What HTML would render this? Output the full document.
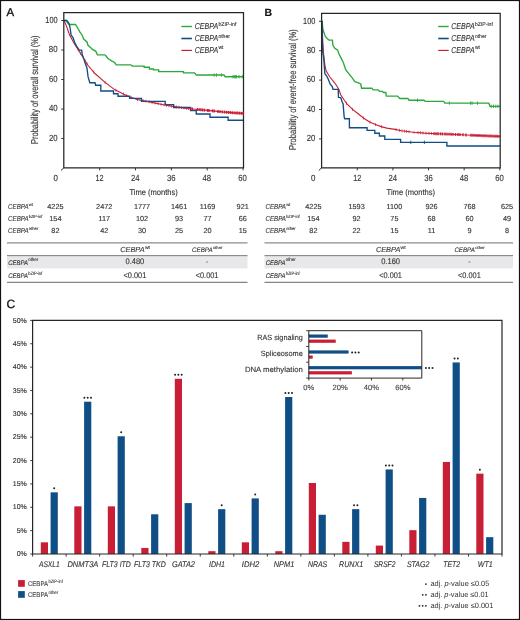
<!DOCTYPE html><html><head><meta charset="utf-8"><style>html,body{margin:0;padding:0;background:#fff;}svg{display:block;font-family:"Liberation Sans",sans-serif;will-change:transform;text-rendering:geometricPrecision;}</style></head><body>
<svg width="520" height="620" viewBox="0 0 520 620">
<rect x="0" y="0" width="520" height="620" fill="#fff"/>
<text x="6.60" y="16.40" font-size="11.4" text-anchor="start" fill="#111" stroke="#111" stroke-width="0.35">A</text>
<text x="264.60" y="16.40" font-size="10.5" text-anchor="start" fill="#111" font-weight="bold" stroke="#111" stroke-width="0.12">B</text>
<text x="6.40" y="307.80" font-size="12.0" text-anchor="start" fill="#111" stroke="#111" stroke-width="0.3">C</text>
<polyline points="64.00,20.50 66.00,20.50 67.20,22.20 68.20,23.80 69.20,24.50 75.50,24.50 77.40,27.50 79.80,31.90 82.20,35.20 83.60,39.10 87.00,42.00 88.00,45.30 90.80,47.70 92.80,49.70 95.70,51.10 97.40,54.80 104.80,54.80 106.50,56.50 108.00,58.60 111.50,60.80 114.60,62.50 116.30,64.80 130.80,64.80 132.50,66.10 144.20,66.10 144.20,67.20 149.40,67.20 149.40,69.00 153.50,69.00 153.50,69.90 158.70,69.90 158.70,71.60 183.50,71.60 183.50,72.80 194.60,72.80 196.30,75.00 224.00,75.00 225.20,76.70 243.50,76.70" fill="none" stroke="#2aa83e" stroke-width="1.35" stroke-linejoin="miter"/>
<polyline points="64.00,20.50 66.30,25.60 69.70,35.20 74.50,43.90 81.20,54.50 88.10,65.50 95.00,73.50 104.80,82.10 114.60,89.60 126.20,95.40 130.00,97.10 137.70,99.60 145.00,101.00 153.00,102.60 164.60,105.00 176.20,106.90 187.70,108.50 197.50,109.50 210.00,110.60 222.50,111.90 235.00,112.90 243.50,113.40" fill="none" stroke="#c81f36" stroke-width="1.1" stroke-linejoin="miter"/>
<polyline points="64.00,20.50 66.80,20.50 69.20,23.70 70.20,28.50 71.10,35.20 73.00,37.60 74.50,42.00 76.40,45.80 78.30,48.70 79.30,50.10 81.70,50.10 82.20,54.50 83.60,58.30 85.10,63.10 86.90,67.70 88.10,76.90 89.80,82.70 95.00,82.70 95.60,85.20 100.80,85.20 100.80,91.00 113.50,91.00 113.50,93.70 118.00,93.70 118.00,96.20 129.60,96.20 129.60,98.30 141.50,98.30 141.50,101.40 165.20,101.40 165.20,104.60 173.60,104.60 173.60,107.50 190.60,107.50 190.60,110.60 196.25,110.60 196.25,114.00 210.00,114.00 210.00,117.25 228.10,117.25 228.10,120.25 243.50,120.25" fill="none" stroke="#0f4f86" stroke-width="1.35" stroke-linejoin="miter"/>
<path d="M63.8,167.8 L63.8,12.5 L243.5,12.5 L243.5,167.8 Z" fill="none" stroke="#262626" stroke-width="1.25"/>
<line x1="63.80" y1="167.80" x2="61.00" y2="170.50" stroke="#262626" stroke-width="1.0"/>
<line x1="61.20" y1="138.50" x2="63.80" y2="138.50" stroke="#262626" stroke-width="0.9"/>
<text x="57.60" y="140.80" font-size="8.9" text-anchor="end" fill="#333333" textLength="8.60" lengthAdjust="spacingAndGlyphs" stroke="#333333" stroke-width="0.12">20</text>
<line x1="61.20" y1="109.00" x2="63.80" y2="109.00" stroke="#262626" stroke-width="0.9"/>
<text x="57.60" y="111.30" font-size="8.9" text-anchor="end" fill="#333333" textLength="8.70" lengthAdjust="spacingAndGlyphs" stroke="#333333" stroke-width="0.12">40</text>
<line x1="61.20" y1="79.50" x2="63.80" y2="79.50" stroke="#262626" stroke-width="0.9"/>
<text x="57.60" y="81.80" font-size="8.9" text-anchor="end" fill="#333333" textLength="8.60" lengthAdjust="spacingAndGlyphs" stroke="#333333" stroke-width="0.12">60</text>
<line x1="61.20" y1="50.00" x2="63.80" y2="50.00" stroke="#262626" stroke-width="0.9"/>
<text x="57.60" y="52.30" font-size="8.9" text-anchor="end" fill="#333333" textLength="8.75" lengthAdjust="spacingAndGlyphs" stroke="#333333" stroke-width="0.12">80</text>
<line x1="61.20" y1="20.50" x2="63.80" y2="20.50" stroke="#262626" stroke-width="0.9"/>
<text x="57.60" y="22.80" font-size="8.9" text-anchor="end" fill="#333333" textLength="12.30" lengthAdjust="spacingAndGlyphs" stroke="#333333" stroke-width="0.12">100</text>
<text x="55.60" y="180.90" font-size="8.9" text-anchor="middle" fill="#333333" textLength="4.40" lengthAdjust="spacingAndGlyphs" stroke="#333333" stroke-width="0.12">0</text>
<line x1="99.66" y1="167.80" x2="99.66" y2="170.40" stroke="#262626" stroke-width="0.9"/>
<text x="99.60" y="180.90" font-size="8.9" text-anchor="middle" fill="#333333" textLength="8.10" lengthAdjust="spacingAndGlyphs" stroke="#333333" stroke-width="0.12">12</text>
<line x1="135.51" y1="167.80" x2="135.51" y2="170.40" stroke="#262626" stroke-width="0.9"/>
<text x="135.30" y="180.90" font-size="8.9" text-anchor="middle" fill="#333333" textLength="8.60" lengthAdjust="spacingAndGlyphs" stroke="#333333" stroke-width="0.12">24</text>
<line x1="171.37" y1="167.80" x2="171.37" y2="170.40" stroke="#262626" stroke-width="0.9"/>
<text x="171.20" y="180.90" font-size="8.9" text-anchor="middle" fill="#333333" textLength="8.60" lengthAdjust="spacingAndGlyphs" stroke="#333333" stroke-width="0.12">36</text>
<line x1="207.22" y1="167.80" x2="207.22" y2="170.40" stroke="#262626" stroke-width="0.9"/>
<text x="206.80" y="180.90" font-size="8.9" text-anchor="middle" fill="#333333" textLength="8.60" lengthAdjust="spacingAndGlyphs" stroke="#333333" stroke-width="0.12">48</text>
<line x1="243.08" y1="167.80" x2="243.08" y2="170.40" stroke="#262626" stroke-width="0.9"/>
<text x="242.50" y="180.90" font-size="8.9" text-anchor="middle" fill="#333333" textLength="8.60" lengthAdjust="spacingAndGlyphs" stroke="#333333" stroke-width="0.12">60</text>
<text x="129.40" y="194.60" font-size="8.3" text-anchor="start" fill="#333333" textLength="48.50" lengthAdjust="spacingAndGlyphs" stroke="#333333" stroke-width="0.12">Time (months)</text>
<g transform="translate(37.7,89.8) rotate(-90)">
<text x="0.00" y="0.00" font-size="10" text-anchor="middle" fill="#333333" textLength="108.40" lengthAdjust="spacingAndGlyphs" stroke="#333333" stroke-width="0.12">Probability of overall survival (%)</text>
</g>
<line x1="181.40" y1="26.50" x2="191.90" y2="26.50" stroke="#2aa83e" stroke-width="1.4"/>
<text x="194.80" y="29.10" font-size="8.6" text-anchor="start" fill="#333333" font-style="italic" textLength="23.30" lengthAdjust="spacingAndGlyphs" stroke="#333333" stroke-width="0.12">CEBPA</text>
<text x="218.40" y="25.50" font-size="5.4" text-anchor="start" fill="#333333" textLength="18.00" lengthAdjust="spacingAndGlyphs" stroke="#333333" stroke-width="0.12">bZIP-inf</text>
<line x1="181.40" y1="38.50" x2="191.90" y2="38.50" stroke="#0f4f86" stroke-width="1.6"/>
<text x="194.80" y="41.10" font-size="8.6" text-anchor="start" fill="#333333" font-style="italic" textLength="23.30" lengthAdjust="spacingAndGlyphs" stroke="#333333" stroke-width="0.12">CEBPA</text>
<text x="218.40" y="37.50" font-size="5.4" text-anchor="start" fill="#333333" textLength="11.50" lengthAdjust="spacingAndGlyphs" stroke="#333333" stroke-width="0.12">other</text>
<line x1="181.40" y1="50.40" x2="191.90" y2="50.40" stroke="#c81f36" stroke-width="1.15"/>
<text x="194.80" y="53.00" font-size="8.6" text-anchor="start" fill="#333333" font-style="italic" textLength="23.30" lengthAdjust="spacingAndGlyphs" stroke="#333333" stroke-width="0.12">CEBPA</text>
<text x="218.40" y="49.40" font-size="5.4" text-anchor="start" fill="#333333" textLength="5.00" lengthAdjust="spacingAndGlyphs" stroke="#333333" stroke-width="0.12">wt</text>
<polyline points="321.60,21.30 322.20,21.30 322.80,28.50 323.80,32.30 325.20,36.20 327.10,38.60 329.10,40.00 332.40,40.20 332.90,45.30 334.80,48.20 337.70,50.10 338.80,53.50 341.10,58.10 343.40,62.70 345.70,69.60 349.20,74.20 352.00,77.70 354.90,81.70 358.40,82.90 360.70,84.00 361.60,88.20 371.90,88.20 373.10,89.80 378.30,89.80 379.40,91.30 382.30,91.30 383.50,92.50 385.80,92.50 386.30,96.10 397.50,96.10 399.80,98.50 407.90,98.50 409.00,100.20 424.00,100.20 425.20,101.30 443.70,101.30 444.80,103.00 488.80,103.20 490.00,106.30 500.00,106.30" fill="none" stroke="#2aa83e" stroke-width="1.35" stroke-linejoin="miter"/>
<polyline points="321.60,21.30 322.30,30.00 322.80,42.00 323.40,52.00 324.30,60.00 324.90,65.00 326.10,70.80 329.50,76.50 334.20,82.30 336.20,85.00 338.80,89.20 340.80,95.00 344.50,100.50 346.50,103.30 352.30,109.20 358.10,113.80 363.80,118.30 369.60,121.90 375.40,124.60 381.20,126.60 386.90,128.10 395.00,129.40 401.50,130.80 413.10,132.20 424.60,133.10 436.20,133.70 450.00,134.20 471.50,135.20 500.00,136.40" fill="none" stroke="#c81f36" stroke-width="1.1" stroke-linejoin="miter"/>
<polyline points="321.60,21.30 322.00,21.30 322.30,40.00 322.80,52.00 323.80,59.20 324.30,66.20 324.90,73.70 326.70,76.00 328.40,79.40 330.10,84.00 332.40,86.90 333.00,89.30 338.20,89.30 338.50,97.50 340.80,97.70 341.90,101.20 343.10,104.00 344.20,117.30 344.80,118.70 349.40,118.70 349.40,127.70 367.10,127.70 367.10,130.30 374.80,130.30 374.80,133.20 379.40,133.20 379.40,136.00 384.80,136.00 384.80,139.30 400.60,139.30 400.60,142.30 446.90,142.30 446.90,146.00 500.00,146.00" fill="none" stroke="#0f4f86" stroke-width="1.35" stroke-linejoin="miter"/>
<path d="M321.6,167.8 L321.6,13.45 L500.2,13.45 L500.2,167.8 Z" fill="none" stroke="#262626" stroke-width="1.25"/>
<line x1="321.60" y1="167.80" x2="318.80" y2="170.50" stroke="#262626" stroke-width="1.0"/>
<line x1="319.00" y1="138.90" x2="321.60" y2="138.90" stroke="#262626" stroke-width="0.9"/>
<text x="315.40" y="141.20" font-size="8.9" text-anchor="end" fill="#333333" textLength="8.60" lengthAdjust="spacingAndGlyphs" stroke="#333333" stroke-width="0.12">20</text>
<line x1="319.00" y1="109.50" x2="321.60" y2="109.50" stroke="#262626" stroke-width="0.9"/>
<text x="315.40" y="111.80" font-size="8.9" text-anchor="end" fill="#333333" textLength="8.70" lengthAdjust="spacingAndGlyphs" stroke="#333333" stroke-width="0.12">40</text>
<line x1="319.00" y1="80.10" x2="321.60" y2="80.10" stroke="#262626" stroke-width="0.9"/>
<text x="315.40" y="82.40" font-size="8.9" text-anchor="end" fill="#333333" textLength="8.60" lengthAdjust="spacingAndGlyphs" stroke="#333333" stroke-width="0.12">60</text>
<line x1="319.00" y1="50.70" x2="321.60" y2="50.70" stroke="#262626" stroke-width="0.9"/>
<text x="315.40" y="53.00" font-size="8.9" text-anchor="end" fill="#333333" textLength="8.75" lengthAdjust="spacingAndGlyphs" stroke="#333333" stroke-width="0.12">80</text>
<line x1="319.00" y1="21.30" x2="321.60" y2="21.30" stroke="#262626" stroke-width="0.9"/>
<text x="315.40" y="23.60" font-size="8.9" text-anchor="end" fill="#333333" textLength="12.30" lengthAdjust="spacingAndGlyphs" stroke="#333333" stroke-width="0.12">100</text>
<text x="313.20" y="180.90" font-size="8.9" text-anchor="middle" fill="#333333" textLength="4.40" lengthAdjust="spacingAndGlyphs" stroke="#333333" stroke-width="0.12">0</text>
<line x1="357.24" y1="167.80" x2="357.24" y2="170.40" stroke="#262626" stroke-width="0.9"/>
<text x="357.20" y="180.90" font-size="8.9" text-anchor="middle" fill="#333333" textLength="8.10" lengthAdjust="spacingAndGlyphs" stroke="#333333" stroke-width="0.12">12</text>
<line x1="392.88" y1="167.80" x2="392.88" y2="170.40" stroke="#262626" stroke-width="0.9"/>
<text x="392.70" y="180.90" font-size="8.9" text-anchor="middle" fill="#333333" textLength="8.60" lengthAdjust="spacingAndGlyphs" stroke="#333333" stroke-width="0.12">24</text>
<line x1="428.52" y1="167.80" x2="428.52" y2="170.40" stroke="#262626" stroke-width="0.9"/>
<text x="428.60" y="180.90" font-size="8.9" text-anchor="middle" fill="#333333" textLength="8.60" lengthAdjust="spacingAndGlyphs" stroke="#333333" stroke-width="0.12">36</text>
<line x1="464.16" y1="167.80" x2="464.16" y2="170.40" stroke="#262626" stroke-width="0.9"/>
<text x="464.10" y="180.90" font-size="8.9" text-anchor="middle" fill="#333333" textLength="8.60" lengthAdjust="spacingAndGlyphs" stroke="#333333" stroke-width="0.12">48</text>
<line x1="499.80" y1="167.80" x2="499.80" y2="170.40" stroke="#262626" stroke-width="0.9"/>
<text x="499.60" y="180.90" font-size="8.9" text-anchor="middle" fill="#333333" textLength="8.60" lengthAdjust="spacingAndGlyphs" stroke="#333333" stroke-width="0.12">60</text>
<text x="386.60" y="194.60" font-size="8.3" text-anchor="start" fill="#333333" textLength="48.50" lengthAdjust="spacingAndGlyphs" stroke="#333333" stroke-width="0.12">Time (months)</text>
<g transform="translate(295.6,89.55) rotate(-90)">
<text x="0.00" y="0.00" font-size="10" text-anchor="middle" fill="#333333" textLength="120.70" lengthAdjust="spacingAndGlyphs" stroke="#333333" stroke-width="0.12">Probability of event-free survival (%)</text>
</g>
<line x1="438.20" y1="26.50" x2="448.70" y2="26.50" stroke="#2aa83e" stroke-width="1.4"/>
<text x="451.30" y="29.10" font-size="8.6" text-anchor="start" fill="#333333" font-style="italic" textLength="23.30" lengthAdjust="spacingAndGlyphs" stroke="#333333" stroke-width="0.12">CEBPA</text>
<text x="474.90" y="25.50" font-size="5.4" text-anchor="start" fill="#333333" textLength="18.00" lengthAdjust="spacingAndGlyphs" stroke="#333333" stroke-width="0.12">bZIP-inf</text>
<line x1="438.20" y1="38.50" x2="448.70" y2="38.50" stroke="#0f4f86" stroke-width="1.6"/>
<text x="451.30" y="41.10" font-size="8.6" text-anchor="start" fill="#333333" font-style="italic" textLength="23.30" lengthAdjust="spacingAndGlyphs" stroke="#333333" stroke-width="0.12">CEBPA</text>
<text x="474.90" y="37.50" font-size="5.4" text-anchor="start" fill="#333333" textLength="11.50" lengthAdjust="spacingAndGlyphs" stroke="#333333" stroke-width="0.12">other</text>
<line x1="438.20" y1="50.40" x2="448.70" y2="50.40" stroke="#c81f36" stroke-width="1.15"/>
<text x="451.30" y="53.00" font-size="8.6" text-anchor="start" fill="#333333" font-style="italic" textLength="23.30" lengthAdjust="spacingAndGlyphs" stroke="#333333" stroke-width="0.12">CEBPA</text>
<text x="474.90" y="49.40" font-size="5.4" text-anchor="start" fill="#333333" textLength="5.00" lengthAdjust="spacingAndGlyphs" stroke="#333333" stroke-width="0.12">wt</text>
<line x1="214.20" y1="73.30" x2="214.20" y2="76.70" stroke="#2aa83e" stroke-width="0.9"/>
<line x1="216.50" y1="73.30" x2="216.50" y2="76.70" stroke="#2aa83e" stroke-width="0.9"/>
<line x1="221.40" y1="73.30" x2="221.40" y2="76.70" stroke="#2aa83e" stroke-width="0.9"/>
<line x1="233.00" y1="75.00" x2="233.00" y2="78.40" stroke="#2aa83e" stroke-width="0.9"/>
<line x1="234.20" y1="75.00" x2="234.20" y2="78.40" stroke="#2aa83e" stroke-width="0.9"/>
<line x1="235.40" y1="75.00" x2="235.40" y2="78.40" stroke="#2aa83e" stroke-width="0.9"/>
<line x1="236.40" y1="75.00" x2="236.40" y2="78.40" stroke="#2aa83e" stroke-width="0.9"/>
<line x1="239.00" y1="75.00" x2="239.00" y2="78.40" stroke="#2aa83e" stroke-width="0.9"/>
<line x1="242.30" y1="75.00" x2="242.30" y2="78.40" stroke="#2aa83e" stroke-width="0.9"/>
<line x1="78.30" y1="48.41" x2="78.30" y2="51.41" stroke="#c81f36" stroke-width="0.7"/>
<line x1="80.50" y1="51.89" x2="80.50" y2="54.89" stroke="#c81f36" stroke-width="0.7"/>
<line x1="85.00" y1="59.06" x2="85.00" y2="62.06" stroke="#c81f36" stroke-width="0.7"/>
<line x1="87.00" y1="62.25" x2="87.00" y2="65.25" stroke="#c81f36" stroke-width="0.7"/>
<line x1="93.70" y1="70.49" x2="93.70" y2="73.49" stroke="#c81f36" stroke-width="0.7"/>
<line x1="105.20" y1="80.91" x2="105.20" y2="83.91" stroke="#c81f36" stroke-width="0.7"/>
<line x1="115.80" y1="88.70" x2="115.80" y2="91.70" stroke="#c81f36" stroke-width="0.7"/>
<line x1="123.50" y1="92.55" x2="123.50" y2="95.55" stroke="#c81f36" stroke-width="0.7"/>
<line x1="126.50" y1="94.03" x2="126.50" y2="97.03" stroke="#c81f36" stroke-width="0.7"/>
<line x1="131.00" y1="95.92" x2="131.00" y2="98.92" stroke="#c81f36" stroke-width="0.7"/>
<line x1="137.50" y1="98.04" x2="137.50" y2="101.04" stroke="#c81f36" stroke-width="0.7"/>
<line x1="143.00" y1="99.12" x2="143.00" y2="102.12" stroke="#c81f36" stroke-width="0.7"/>
<line x1="146.00" y1="99.70" x2="146.00" y2="102.70" stroke="#c81f36" stroke-width="0.7"/>
<line x1="149.00" y1="100.30" x2="149.00" y2="103.30" stroke="#c81f36" stroke-width="0.7"/>
<line x1="152.00" y1="100.90" x2="152.00" y2="103.90" stroke="#c81f36" stroke-width="0.7"/>
<line x1="155.00" y1="101.51" x2="155.00" y2="104.51" stroke="#c81f36" stroke-width="0.7"/>
<line x1="158.00" y1="102.13" x2="158.00" y2="105.13" stroke="#c81f36" stroke-width="0.7"/>
<line x1="161.00" y1="102.76" x2="161.00" y2="105.76" stroke="#c81f36" stroke-width="0.7"/>
<line x1="164.00" y1="103.38" x2="164.00" y2="106.38" stroke="#c81f36" stroke-width="0.7"/>
<line x1="166.50" y1="103.81" x2="166.50" y2="106.81" stroke="#c81f36" stroke-width="0.7"/>
<line x1="169.00" y1="104.22" x2="169.00" y2="107.22" stroke="#c81f36" stroke-width="0.7"/>
<line x1="171.50" y1="104.63" x2="171.50" y2="107.63" stroke="#c81f36" stroke-width="0.7"/>
<line x1="174.00" y1="105.04" x2="174.00" y2="108.04" stroke="#c81f36" stroke-width="0.7"/>
<line x1="176.50" y1="105.44" x2="176.50" y2="108.44" stroke="#c81f36" stroke-width="0.7"/>
<line x1="179.00" y1="105.79" x2="179.00" y2="108.79" stroke="#c81f36" stroke-width="0.7"/>
<line x1="181.50" y1="106.14" x2="181.50" y2="109.14" stroke="#c81f36" stroke-width="0.7"/>
<line x1="184.00" y1="106.49" x2="184.00" y2="109.49" stroke="#c81f36" stroke-width="0.7"/>
<line x1="186.50" y1="106.83" x2="186.50" y2="109.83" stroke="#c81f36" stroke-width="0.7"/>
<line x1="188.50" y1="107.08" x2="188.50" y2="110.08" stroke="#c81f36" stroke-width="0.7"/>
<line x1="190.50" y1="107.34" x2="190.50" y2="110.24" stroke="#c81f36" stroke-width="1.4"/>
<line x1="192.30" y1="107.52" x2="192.30" y2="110.42" stroke="#c81f36" stroke-width="1.4"/>
<line x1="197.50" y1="108.05" x2="197.50" y2="110.95" stroke="#c81f36" stroke-width="1.4"/>
<line x1="199.20" y1="108.20" x2="199.20" y2="111.10" stroke="#c81f36" stroke-width="1.4"/>
<line x1="200.90" y1="108.35" x2="200.90" y2="111.25" stroke="#c81f36" stroke-width="1.4"/>
<line x1="202.60" y1="108.50" x2="202.60" y2="111.40" stroke="#c81f36" stroke-width="1.4"/>
<line x1="204.50" y1="108.67" x2="204.50" y2="111.57" stroke="#c81f36" stroke-width="1.4"/>
<line x1="207.50" y1="108.93" x2="207.50" y2="111.83" stroke="#c81f36" stroke-width="1.4"/>
<line x1="209.00" y1="109.06" x2="209.00" y2="111.96" stroke="#c81f36" stroke-width="1.4"/>
<line x1="212.50" y1="109.41" x2="212.50" y2="112.31" stroke="#c81f36" stroke-width="1.4"/>
<line x1="214.20" y1="109.59" x2="214.20" y2="112.49" stroke="#c81f36" stroke-width="1.4"/>
<line x1="218.00" y1="109.98" x2="218.00" y2="112.88" stroke="#c81f36" stroke-width="1.4"/>
<line x1="220.00" y1="110.19" x2="220.00" y2="113.09" stroke="#c81f36" stroke-width="1.4"/>
<line x1="222.40" y1="110.44" x2="222.40" y2="113.34" stroke="#c81f36" stroke-width="1.4"/>
<line x1="224.60" y1="110.62" x2="224.60" y2="113.52" stroke="#c81f36" stroke-width="1.4"/>
<line x1="226.60" y1="110.78" x2="226.60" y2="113.68" stroke="#c81f36" stroke-width="1.4"/>
<line x1="228.50" y1="110.93" x2="228.50" y2="113.83" stroke="#c81f36" stroke-width="1.4"/>
<line x1="230.40" y1="111.08" x2="230.40" y2="113.98" stroke="#c81f36" stroke-width="1.4"/>
<line x1="232.30" y1="111.23" x2="232.30" y2="114.13" stroke="#c81f36" stroke-width="1.4"/>
<line x1="234.20" y1="111.39" x2="234.20" y2="114.29" stroke="#c81f36" stroke-width="1.4"/>
<line x1="236.00" y1="111.51" x2="236.00" y2="114.41" stroke="#c81f36" stroke-width="1.4"/>
<line x1="237.80" y1="111.61" x2="237.80" y2="114.51" stroke="#c81f36" stroke-width="1.4"/>
<line x1="239.60" y1="111.72" x2="239.60" y2="114.62" stroke="#c81f36" stroke-width="1.4"/>
<line x1="241.40" y1="111.83" x2="241.40" y2="114.73" stroke="#c81f36" stroke-width="1.4"/>
<line x1="243.00" y1="111.92" x2="243.00" y2="114.82" stroke="#c81f36" stroke-width="1.4"/>
<line x1="417.50" y1="98.50" x2="417.50" y2="101.90" stroke="#2aa83e" stroke-width="0.9"/>
<line x1="449.40" y1="101.32" x2="449.40" y2="104.72" stroke="#2aa83e" stroke-width="0.9"/>
<line x1="470.60" y1="101.42" x2="470.60" y2="104.82" stroke="#2aa83e" stroke-width="0.9"/>
<line x1="472.10" y1="101.42" x2="472.10" y2="104.82" stroke="#2aa83e" stroke-width="0.9"/>
<line x1="477.50" y1="101.45" x2="477.50" y2="104.85" stroke="#2aa83e" stroke-width="0.9"/>
<line x1="491.20" y1="104.60" x2="491.20" y2="108.00" stroke="#2aa83e" stroke-width="0.9"/>
<line x1="493.50" y1="104.60" x2="493.50" y2="108.00" stroke="#2aa83e" stroke-width="0.9"/>
<line x1="495.80" y1="104.60" x2="495.80" y2="108.00" stroke="#2aa83e" stroke-width="0.9"/>
<line x1="498.00" y1="104.60" x2="498.00" y2="108.00" stroke="#2aa83e" stroke-width="0.9"/>
<line x1="410.80" y1="140.60" x2="410.80" y2="144.00" stroke="#0f4f86" stroke-width="0.9"/>
<line x1="424.40" y1="140.60" x2="424.40" y2="144.00" stroke="#0f4f86" stroke-width="0.9"/>
<line x1="346.50" y1="101.80" x2="346.50" y2="104.80" stroke="#c81f36" stroke-width="0.7"/>
<line x1="352.50" y1="107.86" x2="352.50" y2="110.86" stroke="#c81f36" stroke-width="0.7"/>
<line x1="363.50" y1="116.56" x2="363.50" y2="119.56" stroke="#c81f36" stroke-width="0.7"/>
<line x1="370.00" y1="120.59" x2="370.00" y2="123.59" stroke="#c81f36" stroke-width="0.7"/>
<line x1="375.50" y1="123.13" x2="375.50" y2="126.13" stroke="#c81f36" stroke-width="0.7"/>
<line x1="381.50" y1="125.18" x2="381.50" y2="128.18" stroke="#c81f36" stroke-width="0.7"/>
<line x1="396.00" y1="128.12" x2="396.00" y2="131.12" stroke="#c81f36" stroke-width="0.7"/>
<line x1="399.50" y1="128.87" x2="399.50" y2="131.87" stroke="#c81f36" stroke-width="0.7"/>
<line x1="402.00" y1="129.36" x2="402.00" y2="132.36" stroke="#c81f36" stroke-width="0.7"/>
<line x1="404.50" y1="129.66" x2="404.50" y2="132.66" stroke="#c81f36" stroke-width="0.7"/>
<line x1="406.50" y1="129.90" x2="406.50" y2="132.90" stroke="#c81f36" stroke-width="0.7"/>
<line x1="409.00" y1="130.21" x2="409.00" y2="133.21" stroke="#c81f36" stroke-width="0.7"/>
<line x1="414.00" y1="130.77" x2="414.00" y2="133.77" stroke="#c81f36" stroke-width="0.7"/>
<line x1="418.00" y1="131.08" x2="418.00" y2="134.08" stroke="#c81f36" stroke-width="0.7"/>
<line x1="420.50" y1="131.28" x2="420.50" y2="134.28" stroke="#c81f36" stroke-width="0.7"/>
<line x1="423.00" y1="131.47" x2="423.00" y2="134.47" stroke="#c81f36" stroke-width="0.7"/>
<line x1="426.00" y1="131.67" x2="426.00" y2="134.67" stroke="#c81f36" stroke-width="0.7"/>
<line x1="429.00" y1="131.83" x2="429.00" y2="134.83" stroke="#c81f36" stroke-width="0.7"/>
<line x1="431.50" y1="131.96" x2="431.50" y2="134.96" stroke="#c81f36" stroke-width="0.7"/>
<line x1="434.00" y1="132.14" x2="434.00" y2="135.04" stroke="#c81f36" stroke-width="1.4"/>
<line x1="436.00" y1="132.24" x2="436.00" y2="135.14" stroke="#c81f36" stroke-width="1.4"/>
<line x1="438.00" y1="132.32" x2="438.00" y2="135.22" stroke="#c81f36" stroke-width="1.4"/>
<line x1="440.50" y1="132.41" x2="440.50" y2="135.31" stroke="#c81f36" stroke-width="1.4"/>
<line x1="442.50" y1="132.48" x2="442.50" y2="135.38" stroke="#c81f36" stroke-width="1.4"/>
<line x1="445.00" y1="132.57" x2="445.00" y2="135.47" stroke="#c81f36" stroke-width="1.4"/>
<line x1="447.00" y1="132.64" x2="447.00" y2="135.54" stroke="#c81f36" stroke-width="1.4"/>
<line x1="449.00" y1="132.71" x2="449.00" y2="135.61" stroke="#c81f36" stroke-width="1.4"/>
<line x1="451.00" y1="132.80" x2="451.00" y2="135.70" stroke="#c81f36" stroke-width="1.4"/>
<line x1="453.00" y1="132.89" x2="453.00" y2="135.79" stroke="#c81f36" stroke-width="1.4"/>
<line x1="455.50" y1="133.01" x2="455.50" y2="135.91" stroke="#c81f36" stroke-width="1.4"/>
<line x1="458.00" y1="133.12" x2="458.00" y2="136.02" stroke="#c81f36" stroke-width="1.4"/>
<line x1="460.00" y1="133.22" x2="460.00" y2="136.12" stroke="#c81f36" stroke-width="1.4"/>
<line x1="463.00" y1="133.35" x2="463.00" y2="136.25" stroke="#c81f36" stroke-width="1.4"/>
<line x1="466.00" y1="133.49" x2="466.00" y2="136.39" stroke="#c81f36" stroke-width="1.4"/>
<line x1="471.00" y1="133.73" x2="471.00" y2="136.63" stroke="#c81f36" stroke-width="1.4"/>
<line x1="473.00" y1="133.81" x2="473.00" y2="136.71" stroke="#c81f36" stroke-width="1.4"/>
<line x1="475.00" y1="133.90" x2="475.00" y2="136.80" stroke="#c81f36" stroke-width="1.4"/>
<line x1="477.00" y1="133.98" x2="477.00" y2="136.88" stroke="#c81f36" stroke-width="1.4"/>
<line x1="479.00" y1="134.07" x2="479.00" y2="136.97" stroke="#c81f36" stroke-width="1.4"/>
<line x1="481.00" y1="134.15" x2="481.00" y2="137.05" stroke="#c81f36" stroke-width="1.4"/>
<line x1="483.00" y1="134.23" x2="483.00" y2="137.13" stroke="#c81f36" stroke-width="1.4"/>
<line x1="485.00" y1="134.32" x2="485.00" y2="137.22" stroke="#c81f36" stroke-width="1.4"/>
<line x1="487.00" y1="134.40" x2="487.00" y2="137.30" stroke="#c81f36" stroke-width="1.4"/>
<line x1="489.00" y1="134.49" x2="489.00" y2="137.39" stroke="#c81f36" stroke-width="1.4"/>
<line x1="491.00" y1="134.57" x2="491.00" y2="137.47" stroke="#c81f36" stroke-width="1.4"/>
<line x1="493.00" y1="134.66" x2="493.00" y2="137.56" stroke="#c81f36" stroke-width="1.4"/>
<line x1="495.00" y1="134.74" x2="495.00" y2="137.64" stroke="#c81f36" stroke-width="1.4"/>
<line x1="497.00" y1="134.82" x2="497.00" y2="137.72" stroke="#c81f36" stroke-width="1.4"/>
<line x1="499.00" y1="134.91" x2="499.00" y2="137.81" stroke="#c81f36" stroke-width="1.4"/>
<text x="8.10" y="209.40" font-size="7.2" text-anchor="start" fill="#333333" font-style="italic" textLength="20.40" lengthAdjust="spacingAndGlyphs" stroke="#333333" stroke-width="0.12">CEBPA</text>
<text x="28.80" y="206.40" font-size="4.4" text-anchor="start" fill="#333333" textLength="4.20" lengthAdjust="spacingAndGlyphs" stroke="#333333" stroke-width="0.12">wt</text>
<text x="55.40" y="209.40" font-size="7.3" text-anchor="middle" fill="#333333" stroke="#333333" stroke-width="0.12">4225</text>
<text x="104.20" y="209.40" font-size="7.3" text-anchor="middle" fill="#333333" stroke="#333333" stroke-width="0.12">2472</text>
<text x="142.00" y="209.40" font-size="7.3" text-anchor="middle" fill="#333333" stroke="#333333" stroke-width="0.12">1777</text>
<text x="179.10" y="209.40" font-size="7.3" text-anchor="middle" fill="#333333" stroke="#333333" stroke-width="0.12">1461</text>
<text x="207.50" y="209.40" font-size="7.3" text-anchor="middle" fill="#333333" stroke="#333333" stroke-width="0.12">1169</text>
<text x="242.70" y="209.40" font-size="7.3" text-anchor="middle" fill="#333333" stroke="#333333" stroke-width="0.12">921</text>
<text x="8.10" y="221.30" font-size="7.2" text-anchor="start" fill="#333333" font-style="italic" textLength="20.40" lengthAdjust="spacingAndGlyphs" stroke="#333333" stroke-width="0.12">CEBPA</text>
<text x="28.80" y="218.30" font-size="4.4" text-anchor="start" fill="#333333" textLength="13.50" lengthAdjust="spacingAndGlyphs" stroke="#333333" stroke-width="0.12">bZIP-inf</text>
<text x="55.40" y="221.30" font-size="7.3" text-anchor="middle" fill="#333333" stroke="#333333" stroke-width="0.12">154</text>
<text x="104.20" y="221.30" font-size="7.3" text-anchor="middle" fill="#333333" stroke="#333333" stroke-width="0.12">117</text>
<text x="142.00" y="221.30" font-size="7.3" text-anchor="middle" fill="#333333" stroke="#333333" stroke-width="0.12">102</text>
<text x="179.10" y="221.30" font-size="7.3" text-anchor="middle" fill="#333333" stroke="#333333" stroke-width="0.12">93</text>
<text x="207.50" y="221.30" font-size="7.3" text-anchor="middle" fill="#333333" stroke="#333333" stroke-width="0.12">77</text>
<text x="242.70" y="221.30" font-size="7.3" text-anchor="middle" fill="#333333" stroke="#333333" stroke-width="0.12">66</text>
<text x="8.10" y="233.30" font-size="7.2" text-anchor="start" fill="#333333" font-style="italic" textLength="20.40" lengthAdjust="spacingAndGlyphs" stroke="#333333" stroke-width="0.12">CEBPA</text>
<text x="28.80" y="230.30" font-size="4.4" text-anchor="start" fill="#333333" textLength="9.50" lengthAdjust="spacingAndGlyphs" stroke="#333333" stroke-width="0.12">other</text>
<text x="55.40" y="233.30" font-size="7.3" text-anchor="middle" fill="#333333" stroke="#333333" stroke-width="0.12">82</text>
<text x="104.20" y="233.30" font-size="7.3" text-anchor="middle" fill="#333333" stroke="#333333" stroke-width="0.12">42</text>
<text x="142.00" y="233.30" font-size="7.3" text-anchor="middle" fill="#333333" stroke="#333333" stroke-width="0.12">30</text>
<text x="179.10" y="233.30" font-size="7.3" text-anchor="middle" fill="#333333" stroke="#333333" stroke-width="0.12">25</text>
<text x="207.50" y="233.30" font-size="7.3" text-anchor="middle" fill="#333333" stroke="#333333" stroke-width="0.12">20</text>
<text x="242.70" y="233.30" font-size="7.3" text-anchor="middle" fill="#333333" stroke="#333333" stroke-width="0.12">15</text>
<text x="265.50" y="209.40" font-size="7.2" text-anchor="start" fill="#333333" font-style="italic" textLength="20.40" lengthAdjust="spacingAndGlyphs" stroke="#333333" stroke-width="0.12">CEBPA</text>
<text x="286.20" y="206.40" font-size="4.4" text-anchor="start" fill="#333333" textLength="4.20" lengthAdjust="spacingAndGlyphs" stroke="#333333" stroke-width="0.12">wt</text>
<text x="313.40" y="209.40" font-size="7.3" text-anchor="middle" fill="#333333" stroke="#333333" stroke-width="0.12">4225</text>
<text x="356.60" y="209.40" font-size="7.3" text-anchor="middle" fill="#333333" stroke="#333333" stroke-width="0.12">1593</text>
<text x="394.40" y="209.40" font-size="7.3" text-anchor="middle" fill="#333333" stroke="#333333" stroke-width="0.12">1100</text>
<text x="431.60" y="209.40" font-size="7.3" text-anchor="middle" fill="#333333" stroke="#333333" stroke-width="0.12">926</text>
<text x="469.50" y="209.40" font-size="7.3" text-anchor="middle" fill="#333333" stroke="#333333" stroke-width="0.12">768</text>
<text x="507.00" y="209.40" font-size="7.3" text-anchor="middle" fill="#333333" stroke="#333333" stroke-width="0.12">625</text>
<text x="265.50" y="221.30" font-size="7.2" text-anchor="start" fill="#333333" font-style="italic" textLength="20.40" lengthAdjust="spacingAndGlyphs" stroke="#333333" stroke-width="0.12">CEBPA</text>
<text x="286.20" y="218.30" font-size="4.4" text-anchor="start" fill="#333333" textLength="13.50" lengthAdjust="spacingAndGlyphs" stroke="#333333" stroke-width="0.12">bZIP-inf</text>
<text x="313.40" y="221.30" font-size="7.3" text-anchor="middle" fill="#333333" stroke="#333333" stroke-width="0.12">154</text>
<text x="356.60" y="221.30" font-size="7.3" text-anchor="middle" fill="#333333" stroke="#333333" stroke-width="0.12">92</text>
<text x="394.40" y="221.30" font-size="7.3" text-anchor="middle" fill="#333333" stroke="#333333" stroke-width="0.12">75</text>
<text x="431.60" y="221.30" font-size="7.3" text-anchor="middle" fill="#333333" stroke="#333333" stroke-width="0.12">68</text>
<text x="469.50" y="221.30" font-size="7.3" text-anchor="middle" fill="#333333" stroke="#333333" stroke-width="0.12">60</text>
<text x="507.00" y="221.30" font-size="7.3" text-anchor="middle" fill="#333333" stroke="#333333" stroke-width="0.12">49</text>
<text x="265.50" y="233.30" font-size="7.2" text-anchor="start" fill="#333333" font-style="italic" textLength="20.40" lengthAdjust="spacingAndGlyphs" stroke="#333333" stroke-width="0.12">CEBPA</text>
<text x="286.20" y="230.30" font-size="4.4" text-anchor="start" fill="#333333" textLength="9.50" lengthAdjust="spacingAndGlyphs" stroke="#333333" stroke-width="0.12">other</text>
<text x="313.40" y="233.30" font-size="7.3" text-anchor="middle" fill="#333333" stroke="#333333" stroke-width="0.12">82</text>
<text x="356.60" y="233.30" font-size="7.3" text-anchor="middle" fill="#333333" stroke="#333333" stroke-width="0.12">22</text>
<text x="394.40" y="233.30" font-size="7.3" text-anchor="middle" fill="#333333" stroke="#333333" stroke-width="0.12">15</text>
<text x="431.60" y="233.30" font-size="7.3" text-anchor="middle" fill="#333333" stroke="#333333" stroke-width="0.12">11</text>
<text x="469.50" y="233.30" font-size="7.3" text-anchor="middle" fill="#333333" stroke="#333333" stroke-width="0.12">9</text>
<text x="507.00" y="233.30" font-size="7.3" text-anchor="middle" fill="#333333" stroke="#333333" stroke-width="0.12">8</text>
<rect x="7" y="256.5" width="240.5" height="11.9" fill="#e8e8ea"/>
<line x1="7.00" y1="242.85" x2="247.50" y2="242.85" stroke="#8c8c8c" stroke-width="1.2"/>
<line x1="7.00" y1="255.55" x2="247.50" y2="255.55" stroke="#8c8c8c" stroke-width="1.2"/>
<line x1="7.00" y1="282.35" x2="247.50" y2="282.35" stroke="#858585" stroke-width="1.2"/>
<text x="120.20" y="251.80" font-size="7.3" text-anchor="start" fill="#333333" font-style="italic" textLength="24.40" lengthAdjust="spacingAndGlyphs" stroke="#333333" stroke-width="0.12">CEBPA</text>
<text x="144.90" y="248.70" font-size="4.6" text-anchor="start" fill="#333333" textLength="5.00" lengthAdjust="spacingAndGlyphs" stroke="#333333" stroke-width="0.12">wt</text>
<text x="192.10" y="251.60" font-size="6.6" text-anchor="start" fill="#333333" font-style="italic" textLength="20.50" lengthAdjust="spacingAndGlyphs" stroke="#333333" stroke-width="0.12">CEBPA</text>
<text x="212.90" y="248.80" font-size="4.2" text-anchor="start" fill="#333333" textLength="9.50" lengthAdjust="spacingAndGlyphs" stroke="#333333" stroke-width="0.12">other</text>
<text x="8.30" y="264.60" font-size="6.7" text-anchor="start" fill="#333333" font-style="italic" textLength="19.60" lengthAdjust="spacingAndGlyphs" stroke="#333333" stroke-width="0.12">CEBPA</text>
<text x="28.20" y="261.40" font-size="4.8" text-anchor="start" fill="#333333" textLength="10.00" lengthAdjust="spacingAndGlyphs" stroke="#333333" stroke-width="0.12">other</text>
<text x="8.30" y="277.70" font-size="6.7" text-anchor="start" fill="#333333" font-style="italic" textLength="19.60" lengthAdjust="spacingAndGlyphs" stroke="#333333" stroke-width="0.12">CEBPA</text>
<text x="28.20" y="274.50" font-size="4.8" text-anchor="start" fill="#333333" textLength="14.00" lengthAdjust="spacingAndGlyphs" stroke="#333333" stroke-width="0.12">bZIP-inf</text>
<text x="134.90" y="264.40" font-size="8.2" text-anchor="middle" fill="#333333" textLength="18.80" lengthAdjust="spacingAndGlyphs" stroke="#333333" stroke-width="0.12">0.480</text>
<text x="207.10" y="263.60" font-size="7.6" text-anchor="middle" fill="#333333" stroke="#333333" stroke-width="0.12">-</text>
<text x="134.90" y="277.70" font-size="8.2" text-anchor="middle" fill="#333333" textLength="22.80" lengthAdjust="spacingAndGlyphs" stroke="#333333" stroke-width="0.12">&lt;0.001</text>
<text x="207.10" y="277.70" font-size="8.2" text-anchor="middle" fill="#333333" textLength="22.80" lengthAdjust="spacingAndGlyphs" stroke="#333333" stroke-width="0.12">&lt;0.001</text>
<rect x="264.5" y="256.5" width="248.5" height="11.9" fill="#e8e8ea"/>
<line x1="264.50" y1="242.85" x2="513.00" y2="242.85" stroke="#8c8c8c" stroke-width="1.2"/>
<line x1="264.50" y1="255.55" x2="513.00" y2="255.55" stroke="#8c8c8c" stroke-width="1.2"/>
<line x1="264.50" y1="282.35" x2="513.00" y2="282.35" stroke="#858585" stroke-width="1.2"/>
<text x="375.90" y="251.80" font-size="7.3" text-anchor="start" fill="#333333" font-style="italic" textLength="24.40" lengthAdjust="spacingAndGlyphs" stroke="#333333" stroke-width="0.12">CEBPA</text>
<text x="400.60" y="248.70" font-size="4.6" text-anchor="start" fill="#333333" textLength="5.00" lengthAdjust="spacingAndGlyphs" stroke="#333333" stroke-width="0.12">wt</text>
<text x="454.40" y="251.60" font-size="6.6" text-anchor="start" fill="#333333" font-style="italic" textLength="20.50" lengthAdjust="spacingAndGlyphs" stroke="#333333" stroke-width="0.12">CEBPA</text>
<text x="475.20" y="248.80" font-size="4.2" text-anchor="start" fill="#333333" textLength="9.50" lengthAdjust="spacingAndGlyphs" stroke="#333333" stroke-width="0.12">other</text>
<text x="265.80" y="264.60" font-size="6.7" text-anchor="start" fill="#333333" font-style="italic" textLength="19.60" lengthAdjust="spacingAndGlyphs" stroke="#333333" stroke-width="0.12">CEBPA</text>
<text x="285.70" y="261.40" font-size="4.8" text-anchor="start" fill="#333333" textLength="10.00" lengthAdjust="spacingAndGlyphs" stroke="#333333" stroke-width="0.12">other</text>
<text x="265.80" y="277.70" font-size="6.7" text-anchor="start" fill="#333333" font-style="italic" textLength="19.60" lengthAdjust="spacingAndGlyphs" stroke="#333333" stroke-width="0.12">CEBPA</text>
<text x="285.70" y="274.50" font-size="4.8" text-anchor="start" fill="#333333" textLength="14.00" lengthAdjust="spacingAndGlyphs" stroke="#333333" stroke-width="0.12">bZIP-inf</text>
<text x="390.60" y="264.40" font-size="8.2" text-anchor="middle" fill="#333333" textLength="18.80" lengthAdjust="spacingAndGlyphs" stroke="#333333" stroke-width="0.12">0.160</text>
<text x="469.40" y="263.60" font-size="7.6" text-anchor="middle" fill="#333333" stroke="#333333" stroke-width="0.12">-</text>
<text x="390.60" y="277.70" font-size="8.2" text-anchor="middle" fill="#333333" textLength="22.80" lengthAdjust="spacingAndGlyphs" stroke="#333333" stroke-width="0.12">&lt;0.001</text>
<text x="469.40" y="277.70" font-size="8.2" text-anchor="middle" fill="#333333" textLength="22.80" lengthAdjust="spacingAndGlyphs" stroke="#333333" stroke-width="0.12">&lt;0.001</text>
<rect x="40.80" y="542.32" width="7.2" height="11.68" fill="#c81f36"/>
<rect x="50.60" y="492.33" width="7.2" height="61.67" fill="#0f4f86"/>
<circle cx="54.20" cy="488.33" r="1.0" fill="#222"/>
<rect x="74.30" y="506.35" width="7.2" height="47.65" fill="#c81f36"/>
<rect x="84.10" y="401.69" width="7.2" height="152.31" fill="#0f4f86"/>
<circle cx="84.40" cy="397.69" r="1.0" fill="#222"/>
<circle cx="87.70" cy="397.69" r="1.0" fill="#222"/>
<circle cx="91.00" cy="397.69" r="1.0" fill="#222"/>
<rect x="107.80" y="506.35" width="7.2" height="47.65" fill="#c81f36"/>
<rect x="117.60" y="436.27" width="7.2" height="117.73" fill="#0f4f86"/>
<circle cx="121.20" cy="432.27" r="1.0" fill="#222"/>
<rect x="141.30" y="547.93" width="7.2" height="6.07" fill="#c81f36"/>
<rect x="151.10" y="514.29" width="7.2" height="39.71" fill="#0f4f86"/>
<rect x="174.80" y="378.80" width="7.2" height="175.20" fill="#c81f36"/>
<rect x="184.60" y="503.08" width="7.2" height="50.92" fill="#0f4f86"/>
<circle cx="175.10" cy="374.80" r="1.0" fill="#222"/>
<circle cx="178.40" cy="374.80" r="1.0" fill="#222"/>
<circle cx="181.70" cy="374.80" r="1.0" fill="#222"/>
<rect x="208.30" y="551.20" width="7.2" height="2.80" fill="#c81f36"/>
<rect x="218.10" y="509.15" width="7.2" height="44.85" fill="#0f4f86"/>
<circle cx="221.70" cy="505.15" r="1.0" fill="#222"/>
<rect x="241.80" y="542.32" width="7.2" height="11.68" fill="#c81f36"/>
<rect x="251.60" y="498.40" width="7.2" height="55.60" fill="#0f4f86"/>
<circle cx="255.20" cy="494.40" r="1.0" fill="#222"/>
<rect x="275.30" y="551.20" width="7.2" height="2.80" fill="#c81f36"/>
<rect x="285.10" y="397.02" width="7.2" height="156.98" fill="#0f4f86"/>
<circle cx="285.40" cy="393.02" r="1.0" fill="#222"/>
<circle cx="288.70" cy="393.02" r="1.0" fill="#222"/>
<circle cx="292.00" cy="393.02" r="1.0" fill="#222"/>
<rect x="308.80" y="482.99" width="7.2" height="71.01" fill="#c81f36"/>
<rect x="318.60" y="514.76" width="7.2" height="39.24" fill="#0f4f86"/>
<rect x="342.30" y="541.85" width="7.2" height="12.15" fill="#c81f36"/>
<rect x="352.10" y="509.15" width="7.2" height="44.85" fill="#0f4f86"/>
<circle cx="354.05" cy="505.15" r="1.0" fill="#222"/>
<circle cx="357.35" cy="505.15" r="1.0" fill="#222"/>
<rect x="375.80" y="545.59" width="7.2" height="8.41" fill="#c81f36"/>
<rect x="385.60" y="469.44" width="7.2" height="84.56" fill="#0f4f86"/>
<circle cx="385.90" cy="465.44" r="1.0" fill="#222"/>
<circle cx="389.20" cy="465.44" r="1.0" fill="#222"/>
<circle cx="392.50" cy="465.44" r="1.0" fill="#222"/>
<rect x="409.30" y="530.17" width="7.2" height="23.83" fill="#c81f36"/>
<rect x="419.10" y="497.94" width="7.2" height="56.06" fill="#0f4f86"/>
<rect x="442.80" y="461.96" width="7.2" height="92.04" fill="#c81f36"/>
<rect x="452.60" y="362.45" width="7.2" height="191.55" fill="#0f4f86"/>
<circle cx="454.55" cy="358.45" r="1.0" fill="#222"/>
<circle cx="457.85" cy="358.45" r="1.0" fill="#222"/>
<rect x="476.30" y="473.64" width="7.2" height="80.36" fill="#c81f36"/>
<rect x="486.10" y="537.18" width="7.2" height="16.82" fill="#0f4f86"/>
<circle cx="479.90" cy="469.64" r="1.0" fill="#222"/>
<path d="M32.6,554.0 L32.6,320.4 L502.0,320.4 L502.0,554.0 Z" fill="none" stroke="#262626" stroke-width="1.2"/>
<line x1="30.20" y1="554.00" x2="32.60" y2="554.00" stroke="#262626" stroke-width="0.9"/>
<text x="26.80" y="556.10" font-size="7.0" text-anchor="end" fill="#2a2a2a" stroke="#2a2a2a" stroke-width="0.12">0%</text>
<line x1="30.20" y1="530.64" x2="32.60" y2="530.64" stroke="#262626" stroke-width="0.9"/>
<text x="26.80" y="532.74" font-size="7.0" text-anchor="end" fill="#2a2a2a" stroke="#2a2a2a" stroke-width="0.12">5%</text>
<line x1="30.20" y1="507.28" x2="32.60" y2="507.28" stroke="#262626" stroke-width="0.9"/>
<text x="26.80" y="509.38" font-size="7.0" text-anchor="end" fill="#2a2a2a" stroke="#2a2a2a" stroke-width="0.12">10%</text>
<line x1="30.20" y1="483.92" x2="32.60" y2="483.92" stroke="#262626" stroke-width="0.9"/>
<text x="26.80" y="486.02" font-size="7.0" text-anchor="end" fill="#2a2a2a" stroke="#2a2a2a" stroke-width="0.12">15%</text>
<line x1="30.20" y1="460.56" x2="32.60" y2="460.56" stroke="#262626" stroke-width="0.9"/>
<text x="26.80" y="462.66" font-size="7.0" text-anchor="end" fill="#2a2a2a" stroke="#2a2a2a" stroke-width="0.12">20%</text>
<line x1="30.20" y1="437.20" x2="32.60" y2="437.20" stroke="#262626" stroke-width="0.9"/>
<text x="26.80" y="439.30" font-size="7.0" text-anchor="end" fill="#2a2a2a" stroke="#2a2a2a" stroke-width="0.12">25%</text>
<line x1="30.20" y1="413.84" x2="32.60" y2="413.84" stroke="#262626" stroke-width="0.9"/>
<text x="26.80" y="415.94" font-size="7.0" text-anchor="end" fill="#2a2a2a" stroke="#2a2a2a" stroke-width="0.12">30%</text>
<line x1="30.20" y1="390.48" x2="32.60" y2="390.48" stroke="#262626" stroke-width="0.9"/>
<text x="26.80" y="392.58" font-size="7.0" text-anchor="end" fill="#2a2a2a" stroke="#2a2a2a" stroke-width="0.12">35%</text>
<line x1="30.20" y1="367.12" x2="32.60" y2="367.12" stroke="#262626" stroke-width="0.9"/>
<text x="26.80" y="369.22" font-size="7.0" text-anchor="end" fill="#2a2a2a" stroke="#2a2a2a" stroke-width="0.12">40%</text>
<line x1="30.20" y1="343.76" x2="32.60" y2="343.76" stroke="#262626" stroke-width="0.9"/>
<text x="26.80" y="345.86" font-size="7.0" text-anchor="end" fill="#2a2a2a" stroke="#2a2a2a" stroke-width="0.12">45%</text>
<line x1="30.20" y1="320.40" x2="32.60" y2="320.40" stroke="#262626" stroke-width="0.9"/>
<text x="26.80" y="322.50" font-size="7.0" text-anchor="end" fill="#2a2a2a" stroke="#2a2a2a" stroke-width="0.12">50%</text>
<line x1="32.60" y1="554.00" x2="32.60" y2="556.60" stroke="#262626" stroke-width="0.9"/>
<line x1="66.13" y1="554.00" x2="66.13" y2="556.60" stroke="#262626" stroke-width="0.9"/>
<line x1="99.66" y1="554.00" x2="99.66" y2="556.60" stroke="#262626" stroke-width="0.9"/>
<line x1="133.19" y1="554.00" x2="133.19" y2="556.60" stroke="#262626" stroke-width="0.9"/>
<line x1="166.71" y1="554.00" x2="166.71" y2="556.60" stroke="#262626" stroke-width="0.9"/>
<line x1="200.24" y1="554.00" x2="200.24" y2="556.60" stroke="#262626" stroke-width="0.9"/>
<line x1="233.77" y1="554.00" x2="233.77" y2="556.60" stroke="#262626" stroke-width="0.9"/>
<line x1="267.30" y1="554.00" x2="267.30" y2="556.60" stroke="#262626" stroke-width="0.9"/>
<line x1="300.83" y1="554.00" x2="300.83" y2="556.60" stroke="#262626" stroke-width="0.9"/>
<line x1="334.36" y1="554.00" x2="334.36" y2="556.60" stroke="#262626" stroke-width="0.9"/>
<line x1="367.89" y1="554.00" x2="367.89" y2="556.60" stroke="#262626" stroke-width="0.9"/>
<line x1="401.41" y1="554.00" x2="401.41" y2="556.60" stroke="#262626" stroke-width="0.9"/>
<line x1="434.94" y1="554.00" x2="434.94" y2="556.60" stroke="#262626" stroke-width="0.9"/>
<line x1="468.47" y1="554.00" x2="468.47" y2="556.60" stroke="#262626" stroke-width="0.9"/>
<line x1="502.00" y1="554.00" x2="502.00" y2="556.60" stroke="#262626" stroke-width="0.9"/>
<text x="49.36" y="566.60" font-size="8.3" text-anchor="middle" fill="#333" font-style="italic" textLength="20.80" lengthAdjust="spacingAndGlyphs" stroke="#333" stroke-width="0.12">ASXL1</text>
<text x="82.89" y="566.60" font-size="8.3" text-anchor="middle" fill="#333" font-style="italic" textLength="31.00" lengthAdjust="spacingAndGlyphs" stroke="#333" stroke-width="0.12">DNMT3A</text>
<text x="116.42" y="566.60" font-size="8.3" text-anchor="middle" fill="#333" font-style="italic" textLength="29.00" lengthAdjust="spacingAndGlyphs" stroke="#333" stroke-width="0.12">FLT3 ITD</text>
<text x="149.95" y="566.60" font-size="8.3" text-anchor="middle" fill="#333" font-style="italic" textLength="31.80" lengthAdjust="spacingAndGlyphs" stroke="#333" stroke-width="0.12">FLT3 TKD</text>
<text x="183.48" y="566.60" font-size="8.3" text-anchor="middle" fill="#333" font-style="italic" textLength="23.00" lengthAdjust="spacingAndGlyphs" stroke="#333" stroke-width="0.12">GATA2</text>
<text x="217.01" y="566.60" font-size="8.3" text-anchor="middle" fill="#333" font-style="italic" textLength="16.00" lengthAdjust="spacingAndGlyphs" stroke="#333" stroke-width="0.12">IDH1</text>
<text x="250.54" y="566.60" font-size="8.3" text-anchor="middle" fill="#333" font-style="italic" textLength="17.50" lengthAdjust="spacingAndGlyphs" stroke="#333" stroke-width="0.12">IDH2</text>
<text x="284.06" y="566.60" font-size="8.3" text-anchor="middle" fill="#333" font-style="italic" textLength="20.50" lengthAdjust="spacingAndGlyphs" stroke="#333" stroke-width="0.12">NPM1</text>
<text x="317.59" y="566.60" font-size="8.3" text-anchor="middle" fill="#333" font-style="italic" textLength="19.40" lengthAdjust="spacingAndGlyphs" stroke="#333" stroke-width="0.12">NRAS</text>
<text x="351.12" y="566.60" font-size="8.3" text-anchor="middle" fill="#333" font-style="italic" textLength="24.20" lengthAdjust="spacingAndGlyphs" stroke="#333" stroke-width="0.12">RUNX1</text>
<text x="384.65" y="566.60" font-size="8.3" text-anchor="middle" fill="#333" font-style="italic" textLength="21.50" lengthAdjust="spacingAndGlyphs" stroke="#333" stroke-width="0.12">SRSF2</text>
<text x="418.18" y="566.60" font-size="8.3" text-anchor="middle" fill="#333" font-style="italic" textLength="22.50" lengthAdjust="spacingAndGlyphs" stroke="#333" stroke-width="0.12">STAG2</text>
<text x="451.71" y="566.60" font-size="8.3" text-anchor="middle" fill="#333" font-style="italic" textLength="16.80" lengthAdjust="spacingAndGlyphs" stroke="#333" stroke-width="0.12">TET2</text>
<text x="485.24" y="566.60" font-size="8.3" text-anchor="middle" fill="#333" font-style="italic" textLength="15.00" lengthAdjust="spacingAndGlyphs" stroke="#333" stroke-width="0.12">WT1</text>
<rect x="308.8" y="330.7" width="113.0" height="47.400000000000034" fill="#fff"/>
<rect x="308.8" y="334.50" width="18.95" height="3.2" fill="#0f4f86"/>
<rect x="308.8" y="339.60" width="26.94" height="3.2" fill="#c81f36"/>
<rect x="308.8" y="350.40" width="39.79" height="3.2" fill="#0f4f86"/>
<rect x="308.8" y="355.50" width="3.92" height="3.2" fill="#c81f36"/>
<rect x="308.8" y="366.10" width="113.00" height="3.2" fill="#0f4f86"/>
<rect x="308.8" y="371.20" width="43.08" height="3.2" fill="#c81f36"/>
<path d="M308.8,378.1 L308.8,330.7 L421.8,330.7 L421.8,378.1 Z" fill="none" stroke="#262626" stroke-width="1"/>
<line x1="306.20" y1="330.70" x2="308.80" y2="330.70" stroke="#262626" stroke-width="0.9"/>
<line x1="306.20" y1="346.50" x2="308.80" y2="346.50" stroke="#262626" stroke-width="0.9"/>
<line x1="306.20" y1="362.20" x2="308.80" y2="362.20" stroke="#262626" stroke-width="0.9"/>
<line x1="306.20" y1="378.10" x2="308.80" y2="378.10" stroke="#262626" stroke-width="0.9"/>
<line x1="308.80" y1="378.10" x2="308.80" y2="380.50" stroke="#262626" stroke-width="0.9"/>
<text x="308.80" y="389.90" font-size="7.6" text-anchor="middle" fill="#444" stroke="#444" stroke-width="0.12">0%</text>
<line x1="340.13" y1="378.10" x2="340.13" y2="380.50" stroke="#262626" stroke-width="0.9"/>
<text x="340.13" y="389.90" font-size="7.6" text-anchor="middle" fill="#444" stroke="#444" stroke-width="0.12">20%</text>
<line x1="371.46" y1="378.10" x2="371.46" y2="380.50" stroke="#262626" stroke-width="0.9"/>
<text x="371.46" y="389.90" font-size="7.6" text-anchor="middle" fill="#444" stroke="#444" stroke-width="0.12">40%</text>
<line x1="402.79" y1="378.10" x2="402.79" y2="380.50" stroke="#262626" stroke-width="0.9"/>
<text x="402.79" y="389.90" font-size="7.6" text-anchor="middle" fill="#444" stroke="#444" stroke-width="0.12">60%</text>
<text x="302.80" y="340.30" font-size="7.6" text-anchor="end" fill="#333" textLength="45.60" lengthAdjust="spacingAndGlyphs" stroke="#333" stroke-width="0.12">RAS signaling</text>
<text x="302.80" y="356.20" font-size="7.6" text-anchor="end" fill="#333" textLength="42.00" lengthAdjust="spacingAndGlyphs" stroke="#333" stroke-width="0.12">Spliceosome</text>
<text x="302.80" y="371.80" font-size="7.6" text-anchor="end" fill="#333" textLength="57.90" lengthAdjust="spacingAndGlyphs" stroke="#333" stroke-width="0.12">DNA methylation</text>
<circle cx="352.10" cy="352.40" r="1.0" fill="#222"/>
<circle cx="355.40" cy="352.40" r="1.0" fill="#222"/>
<circle cx="358.70" cy="352.40" r="1.0" fill="#222"/>
<circle cx="425.90" cy="368.00" r="1.0" fill="#222"/>
<circle cx="429.20" cy="368.00" r="1.0" fill="#222"/>
<circle cx="432.50" cy="368.00" r="1.0" fill="#222"/>
<rect x="18.1" y="580.1" width="6.7" height="6.7" fill="#c81f36"/>
<rect x="18.1" y="591.1" width="6.7" height="6.7" fill="#0f4f86"/>
<text x="27.90" y="585.90" font-size="6.8" text-anchor="start" fill="#444" textLength="20.20" lengthAdjust="spacingAndGlyphs" stroke="#444" stroke-width="0.12">CEBPA</text>
<text x="48.40" y="582.50" font-size="4.8" text-anchor="start" fill="#444" textLength="14.40" lengthAdjust="spacingAndGlyphs" stroke="#444" stroke-width="0.12">bZIP-inf</text>
<text x="27.90" y="597.00" font-size="6.8" text-anchor="start" fill="#444" textLength="20.20" lengthAdjust="spacingAndGlyphs" stroke="#444" stroke-width="0.12">CEBPA</text>
<text x="48.40" y="593.60" font-size="4.8" text-anchor="start" fill="#444" textLength="9.80" lengthAdjust="spacingAndGlyphs" stroke="#444" stroke-width="0.12">other</text>
<circle cx="425.90" cy="584.10" r="0.9" fill="#222"/>
<text x="430.5" y="585.90" font-size="7.6" fill="#333" textLength="58.8" lengthAdjust="spacingAndGlyphs">adj. <tspan font-style="italic">p</tspan>-value ≤0.05</text>
<circle cx="425.90" cy="594.80" r="0.9" fill="#222"/>
<circle cx="422.70" cy="594.80" r="0.9" fill="#222"/>
<text x="430.5" y="596.60" font-size="7.6" fill="#333" textLength="58.1" lengthAdjust="spacingAndGlyphs">adj. <tspan font-style="italic">p</tspan>-value ≤0.01</text>
<circle cx="425.90" cy="605.80" r="0.9" fill="#222"/>
<circle cx="422.70" cy="605.80" r="0.9" fill="#222"/>
<circle cx="419.50" cy="605.80" r="0.9" fill="#222"/>
<text x="430.5" y="607.60" font-size="7.6" fill="#333" textLength="62.8" lengthAdjust="spacingAndGlyphs">adj. <tspan font-style="italic">p</tspan>-value ≤0.001</text>
<rect x="0.5" y="0.5" width="519" height="619" fill="none" stroke="#141014" stroke-width="1.2"/>
</svg></body></html>
